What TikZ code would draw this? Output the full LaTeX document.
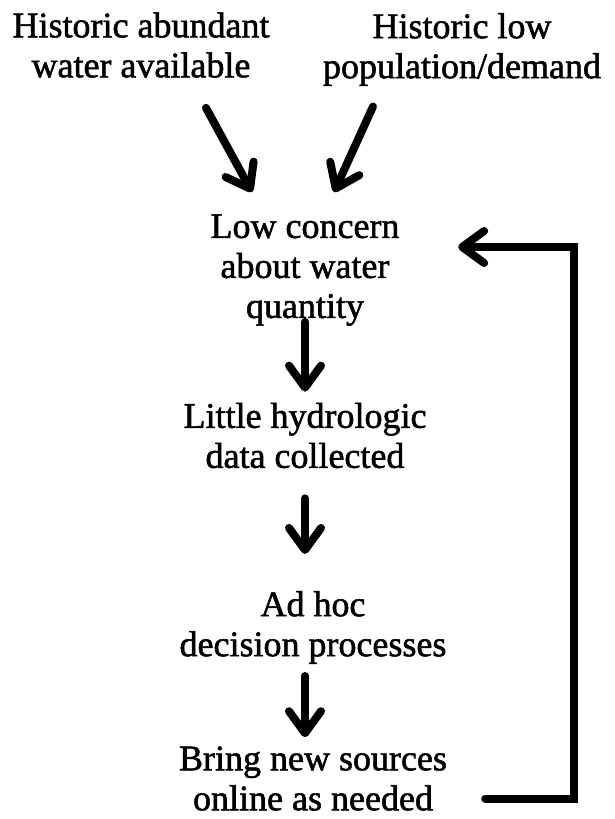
\documentclass[tikz,border=0pt]{standalone}
\usepackage{fontspec}
\newfontfamily\chartfont{Liberation Serif}[FakeBold=1.5]
\usetikzlibrary{arrows.meta}

\begin{document}
\begin{tikzpicture}[x = 1pt, y = -1pt,
		every node/.style = {font = \chartfont\fontsize{36}{40}\selectfont, align = center, inner sep = 0pt},
		arr/.style = {line width = 8pt, line cap = round, -{Straight Barb[length = 22pt, width = 32pt, round]}}]
		\useasboundingbox (0, 0) rectangle (614, 819) ;
		% causes
		\node (hwater) at (141, 45) {Historic abundant\\water available} ;
		\node (hpop) at (462, 49.5) {Historic low\\population/demand} ;
		% chain
		\node (concern) at (305, 270) {Low concern\\about water\\quantity} ;
		\node (data) at (305, 435.5) {Little hydrologic\\data collected} ;
		\node (decide) at (313, 627.5) {Ad hoc\\decision processes} ;
		\node (sources) at (313, 778.5) {Bring new sources\\online as needed} ;
		\draw [arr] ([xshift = 65pt, yshift = -30pt]hwater.south)
			-- ([xshift = -53pt, yshift = 22pt]concern.north) ;
		\draw [arr] ([xshift = -89pt, yshift = -20.5pt]hpop.south)
			-- ([xshift = 29pt, yshift = 22pt]concern.north) ;
		\draw [arr, shorten <= -4pt, shorten >= 11pt] (concern.south) -- (data.north) ;
		\draw [arr, shorten <= 30pt, shorten >= 37pt] (data.south) -- ([xshift = -8pt]decide.north) ;
		\draw [arr, shorten <= 12pt, shorten >= 9pt] ([xshift = -8pt]decide.south) -- ([xshift = -8pt]sources.north) ;
		% back to the top
		\coordinate (loop) at ([xshift = 174.5pt, yshift = 23pt]concern.east) ;
		\draw [arr] ([xshift = 38pt, yshift = -20pt]sources.east) -| (loop) -- ++(-116, 0) ;
	\end{tikzpicture}
\end{document}
